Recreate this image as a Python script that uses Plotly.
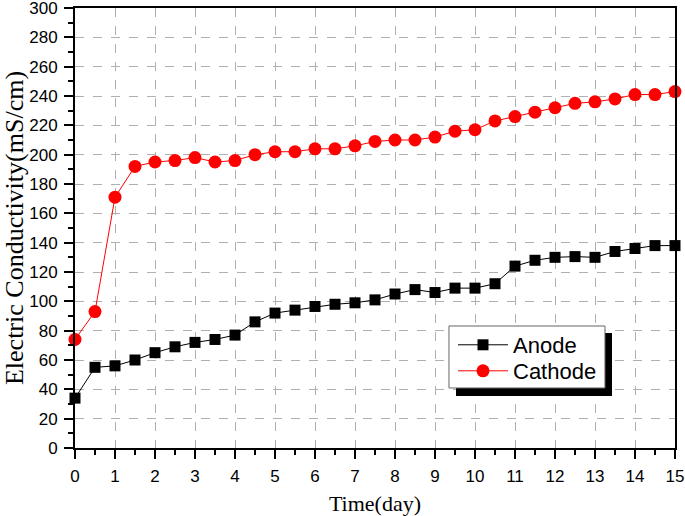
import plotly.graph_objects as go

days = [0, 0.5, 1, 1.5, 2, 2.5, 3, 3.5, 4, 4.5, 5, 5.5, 6, 6.5, 7, 7.5,
        8, 8.5, 9, 9.5, 10, 10.5, 11, 11.5, 12, 12.5, 13, 13.5, 14, 14.5, 15]
anode = [34, 55, 56, 60, 65, 69, 72, 74, 77, 86, 92, 94, 96.5, 98, 99, 101,
         105, 108, 106, 109, 109, 112, 124, 128, 130, 130.5, 130, 134, 136, 138, 138]
cathode = [74, 93, 171, 192, 195, 196, 198, 195, 196, 200, 202, 202, 204, 204, 206, 209,
           210, 210, 212, 216, 217, 223, 226, 229, 232, 235, 236, 238, 241, 241, 243]

x_ticks = list(range(0, 16))
y_ticks = list(range(0, 301, 20))

fig = go.Figure()
fig.add_trace(go.Scatter(x=days, y=anode, name="Anode", mode="lines+markers",
                         line=dict(color="black", width=1),
                         marker=dict(symbol="square", size=11, color="black"),
                         cliponaxis=False, legend="legend"))
fig.add_trace(go.Scatter(x=days, y=cathode, name="Cathode", mode="lines+markers",
                         line=dict(color="red", width=1),
                         marker=dict(symbol="circle", size=13, color="red"),
                         cliponaxis=False, legend="legend2"))

axis_common = dict(showline=True, linecolor="black", linewidth=2, mirror=True,
                   ticks="outside", ticklen=9, tickwidth=2, tickcolor="black",
                   showgrid=True, gridcolor="#b0b0b0", griddash="dash", gridwidth=1,
                   zeroline=False, automargin=False, ticklabeloverflow="allow",
                   tickfont=dict(family="Liberation Sans, Arial", size=17, color="black"))

fig.update_xaxes(range=[0, 15], tickvals=x_ticks, ticklabelstandoff=3,
                 minor=dict(dtick=0.5, ticks="outside", ticklen=5, tickwidth=2,
                            tickcolor="black", showgrid=False),
                 title=dict(text="Time(day)", standoff=10,
                            font=dict(family="Liberation Serif, Times New Roman", size=22, color="black")),
                 **axis_common)
fig.update_yaxes(range=[0, 300], tickvals=y_ticks, ticklabelstandoff=3,
                 minor=dict(dtick=10, ticks="outside", ticklen=5, tickwidth=2,
                            tickcolor="black", showgrid=False),
                 title=dict(text="Electric Conductivity(mS/cm)", standoff=4,
                            font=dict(family="Liberation Serif, Times New Roman", size=26, color="black")),
                 **axis_common)

# legend shadow and box
fig.add_shape(type="rect", xref="paper", yref="paper",
              x0=0.635, x1=0.895, y0=0.1182, y1=0.2614,
              fillcolor="black", line=dict(width=0), layer="above")
fig.add_shape(type="rect", xref="paper", yref="paper",
              x0=0.6233, x1=0.8833, y0=0.1364, y1=0.2773,
              fillcolor="white", line=dict(color="#666666", width=1), layer="above")

leg_common = dict(xanchor="left", yanchor="middle",
                  bgcolor="rgba(0,0,0,0)", borderwidth=0,
                  font=dict(family="Liberation Sans, Arial", size=22, color="black"),
                  itemwidth=50)

fig.update_layout(
    width=685, height=516,
    margin=dict(l=75, r=10, t=8, b=68, autoexpand=False),
    plot_bgcolor="white", paper_bgcolor="white",
    legend=dict(x=0.63, y=0.2341, **leg_common),
    legend2=dict(x=0.63, y=0.175, **leg_common),
    showlegend=True,
)

fig.write_html("out.html", config={"displayModeBar": False},
               post_script="document.body.style.margin='0';document.body.style.overflow='hidden';")
